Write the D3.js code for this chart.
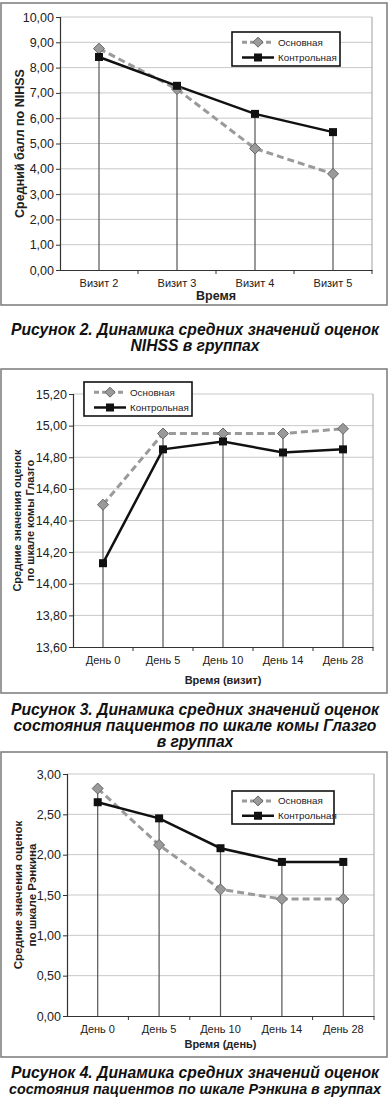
<!DOCTYPE html>
<html><head><meta charset="utf-8">
<script src="https://cdn.jsdelivr.net/npm/d3@7"></script>
<style>body{margin:0;background:#fff}svg{display:block}</style>
</head><body>
<svg id="c" width="390" height="1100"></svg>
<script>
// ---- Data ----
const seriesNames = ["Основная", "Контрольная"];

const nihssCategories = ["Визит 2", "Визит 3", "Визит 4", "Визит 5"];
const nihssMain = [8.75, 7.15, 4.80, 3.80];
const nihssControl = [8.42, 7.28, 6.17, 5.45];
const nihssTicks = [0, 1, 2, 3, 4, 5, 6, 7, 8, 9, 10];

const glasgowCategories = ["День 0", "День 5", "День 10", "День 14", "День 28"];
const glasgowMain = [14.50, 14.95, 14.95, 14.95, 14.98];
const glasgowControl = [14.13, 14.85, 14.90, 14.83, 14.85];
const glasgowTicks = [13.6, 13.8, 14.0, 14.2, 14.4, 14.6, 14.8, 15.0, 15.2];

const rankinCategories = ["День 0", "День 5", "День 10", "День 14", "День 28"];
const rankinMain = [2.82, 2.12, 1.57, 1.45, 1.45];
const rankinControl = [2.65, 2.45, 2.08, 1.91, 1.91];
const rankinTicks = [0, 0.5, 1.0, 1.5, 2.0, 2.5, 3.0];

const svg = d3.select("#c");
const fmt = v => v.toFixed(2).replace(".", ",");
const FONT = "'Liberation Sans', Arial, sans-serif";

function drawChart(o) {
  const g = svg.append("g");
  // frame
  g.append("rect").attr("x", o.frame[0]).attr("y", o.frame[1])
    .attr("width", o.frame[2] - o.frame[0]).attr("height", o.frame[3] - o.frame[1])
    .attr("fill", "#fff").attr("stroke", "#7a7a7a").attr("stroke-width", 1.5);

  const x = d3.scaleBand().domain(o.categories).range([o.plot[0], o.plot[1]]).padding(0);
  const y = d3.scaleLinear().domain([o.ticks[0], o.ticks[o.ticks.length - 1]]).range([o.plot[3], o.plot[2]]);

  // gridlines
  g.append("g").selectAll("line").data(o.ticks.slice(1)).join("line")
    .attr("x1", o.plot[0]).attr("x2", o.plot[1])
    .attr("y1", d => y(d)).attr("y2", d => y(d))
    .attr("stroke", "#c8c8c8").attr("stroke-width", 1);
  // right border
  g.append("line").attr("x1", o.plot[1]).attr("x2", o.plot[1]).attr("y1", o.plot[2]).attr("y2", o.plot[3])
    .attr("stroke", "#a0a0a0").attr("stroke-width", 1);

  // drop lines
  const cx = c => x(c) + x.bandwidth() / 2;
  g.append("g").selectAll("line").data(o.categories).join("line")
    .attr("x1", cx).attr("x2", cx)
    .attr("y1", (c, i) => y(Math.max(o.main[i], o.control[i])))
    .attr("y2", o.plot[3])
    .attr("stroke", "#555").attr("stroke-width", 1.2);

  // axes
  const ya = d3.axisLeft(y).tickValues(o.ticks).tickFormat(fmt).tickSize(4).tickPadding(2);
  const yg = g.append("g").attr("transform", `translate(${o.plot[0]},0)`).call(ya);
  yg.select(".domain").attr("stroke", "#333").attr("stroke-width", 1.2);
  yg.selectAll(".tick line").attr("stroke", "#333");
  yg.selectAll("text").attr("font-family", FONT).attr("font-size", 12.5).attr("fill", "#222");

  const xa = d3.axisBottom(x).tickSize(0).tickPadding(9);
  const xg = g.append("g").attr("transform", `translate(0,${o.plot[3]})`).call(xa);
  xg.select(".domain").attr("stroke", "#333").attr("stroke-width", 1.2);
  xg.selectAll("text").attr("font-family", FONT).attr("font-size", 11).attr("fill", "#222");
  // category boundary ticks
  const bounds = o.categories.slice(1).map(c => x(c)).concat([o.plot[1]]);
  g.append("g").selectAll("line").data(bounds).join("line")
    .attr("x1", d => d).attr("x2", d => d).attr("y1", o.plot[3]).attr("y2", o.plot[3] + 4)
    .attr("stroke", "#333");

  // axis titles
  g.append("text").attr("x", (o.plot[0] + o.plot[1]) / 2).attr("y", o.xTitleY)
    .attr("text-anchor", "middle").attr("font-family", FONT).attr("font-weight", "bold")
    .attr("font-size", o.xTitleSize).attr("fill", "#222").text(o.xTitle);
  const yc = (o.plot[2] + o.plot[3]) / 2;
  o.yTitle.forEach((t, i) => {
    g.append("text").attr("transform", `translate(${o.yTitleX[i]},${yc}) rotate(-90)`)
      .attr("text-anchor", "middle").attr("font-family", FONT).attr("font-weight", "bold")
      .attr("font-size", o.yTitleSize).attr("fill", "#222").attr("dominant-baseline", "central").text(t);
  });

  // lines
  const line = d3.line().x((d, i) => cx(o.categories[i])).y(d => y(d));
  g.append("path").datum(o.main).attr("d", line).attr("fill", "none")
    .attr("stroke", "#9a9a9a").attr("stroke-width", 3).attr("stroke-dasharray", "7,4");
  g.append("path").datum(o.control).attr("d", line).attr("fill", "none")
    .attr("stroke", "#111").attr("stroke-width", 2.5);

  // markers
  const diamond = (px, py, s) => `M${px},${py - s}L${px + s},${py}L${px},${py + s}L${px - s},${py}Z`;
  g.append("g").selectAll("path").data(o.main).join("path")
    .attr("d", (d, i) => diamond(cx(o.categories[i]), y(d), 5.5))
    .attr("fill", "#9a9a9a").attr("stroke", "#666").attr("stroke-width", 1);
  g.append("g").selectAll("rect").data(o.control).join("rect")
    .attr("x", (d, i) => cx(o.categories[i]) - 4).attr("y", d => y(d) - 4)
    .attr("width", 8).attr("height", 8).attr("fill", "#111");

  // legend
  const L = o.legend;
  g.append("rect").attr("x", L[0]).attr("y", L[1]).attr("width", L[2] - L[0]).attr("height", L[3] - L[1])
    .attr("fill", "#fff").attr("stroke", "#111").attr("stroke-width", 1.6);
  const ly = [L[1] + (L[3] - L[1]) * 0.3, L[1] + (L[3] - L[1]) * 0.75];
  const sx0 = L[0] + 10, sx1 = L[0] + 42, sm = (sx0 + sx1) / 2;
  g.append("line").attr("x1", sx0).attr("x2", sx1).attr("y1", ly[0]).attr("y2", ly[0])
    .attr("stroke", "#9a9a9a").attr("stroke-width", 3).attr("stroke-dasharray", "5,3");
  g.append("path").attr("d", diamond(sm, ly[0], 5)).attr("fill", "#9a9a9a").attr("stroke", "#666");
  g.append("line").attr("x1", sx0).attr("x2", sx1).attr("y1", ly[1]).attr("y2", ly[1])
    .attr("stroke", "#111").attr("stroke-width", 2.5);
  g.append("rect").attr("x", sm - 4).attr("y", ly[1] - 4).attr("width", 8).attr("height", 8).attr("fill", "#111");
  seriesNames.forEach((n, i) => {
    g.append("text").attr("x", sx1 + 4).attr("y", ly[i]).attr("dominant-baseline", "central")
      .attr("font-family", FONT).attr("font-size", 9.8).attr("fill", "#222").text(n);
  });

  // caption
  o.caption.forEach((t, i) => {
    const ct = g.append("text").attr("x", 195).attr("y", o.captionY[i]).attr("text-anchor", "middle")
      .attr("font-family", FONT).attr("font-weight", "bold").attr("font-style", "italic")
      .attr("font-size", 15.7).attr("fill", "#111").text(t);
    const len = ct.node().getComputedTextLength();
    if (len > 372) ct.attr("font-size", (15.7 * 372 / len).toFixed(2));
  });
}

drawChart({
  frame: [1, 3, 387, 305], plot: [60, 372, 17, 270],
  categories: nihssCategories, main: nihssMain, control: nihssControl, ticks: nihssTicks,
  xTitle: "Время", xTitleY: 300, xTitleSize: 12.5,
  yTitle: ["Средний балл по NIHSS"], yTitleX: [20], yTitleSize: 12.5,
  legend: [232, 32, 340, 66],
  caption: ["Рисунок 2. Динамика средних значений оценок", "NIHSS в группах"], captionY: [335, 351]
});

drawChart({
  frame: [1, 369, 387, 693], plot: [73, 373, 394, 647],
  categories: glasgowCategories, main: glasgowMain, control: glasgowControl, ticks: glasgowTicks,
  xTitle: "Время (визит)", xTitleY: 684, xTitleSize: 11,
  yTitle: ["Средние значения оценок", "по шкале комы Глазго"], yTitleX: [17, 30], yTitleSize: 11,
  legend: [84, 382, 192, 416],
  caption: ["Рисунок 3. Динамика средних значений оценок", "состояния пациентов по шкале комы Глазго", "в группах"],
  captionY: [715, 731, 747]
});

drawChart({
  frame: [1, 752, 387, 1057], plot: [67, 374, 774, 1016],
  categories: rankinCategories, main: rankinMain, control: rankinControl, ticks: rankinTicks,
  xTitle: "Время (день)", xTitleY: 1048, xTitleSize: 11,
  yTitle: ["Средние значения оценок", "по шкале Рэнкина"], yTitleX: [18, 32], yTitleSize: 11.5,
  legend: [232, 791, 334, 824],
  caption: ["Рисунок 4. Динамика средних значений оценок", "состояния пациентов по шкале Рэнкина в группах"],
  captionY: [1078, 1094]
});
</script>
</body></html>
